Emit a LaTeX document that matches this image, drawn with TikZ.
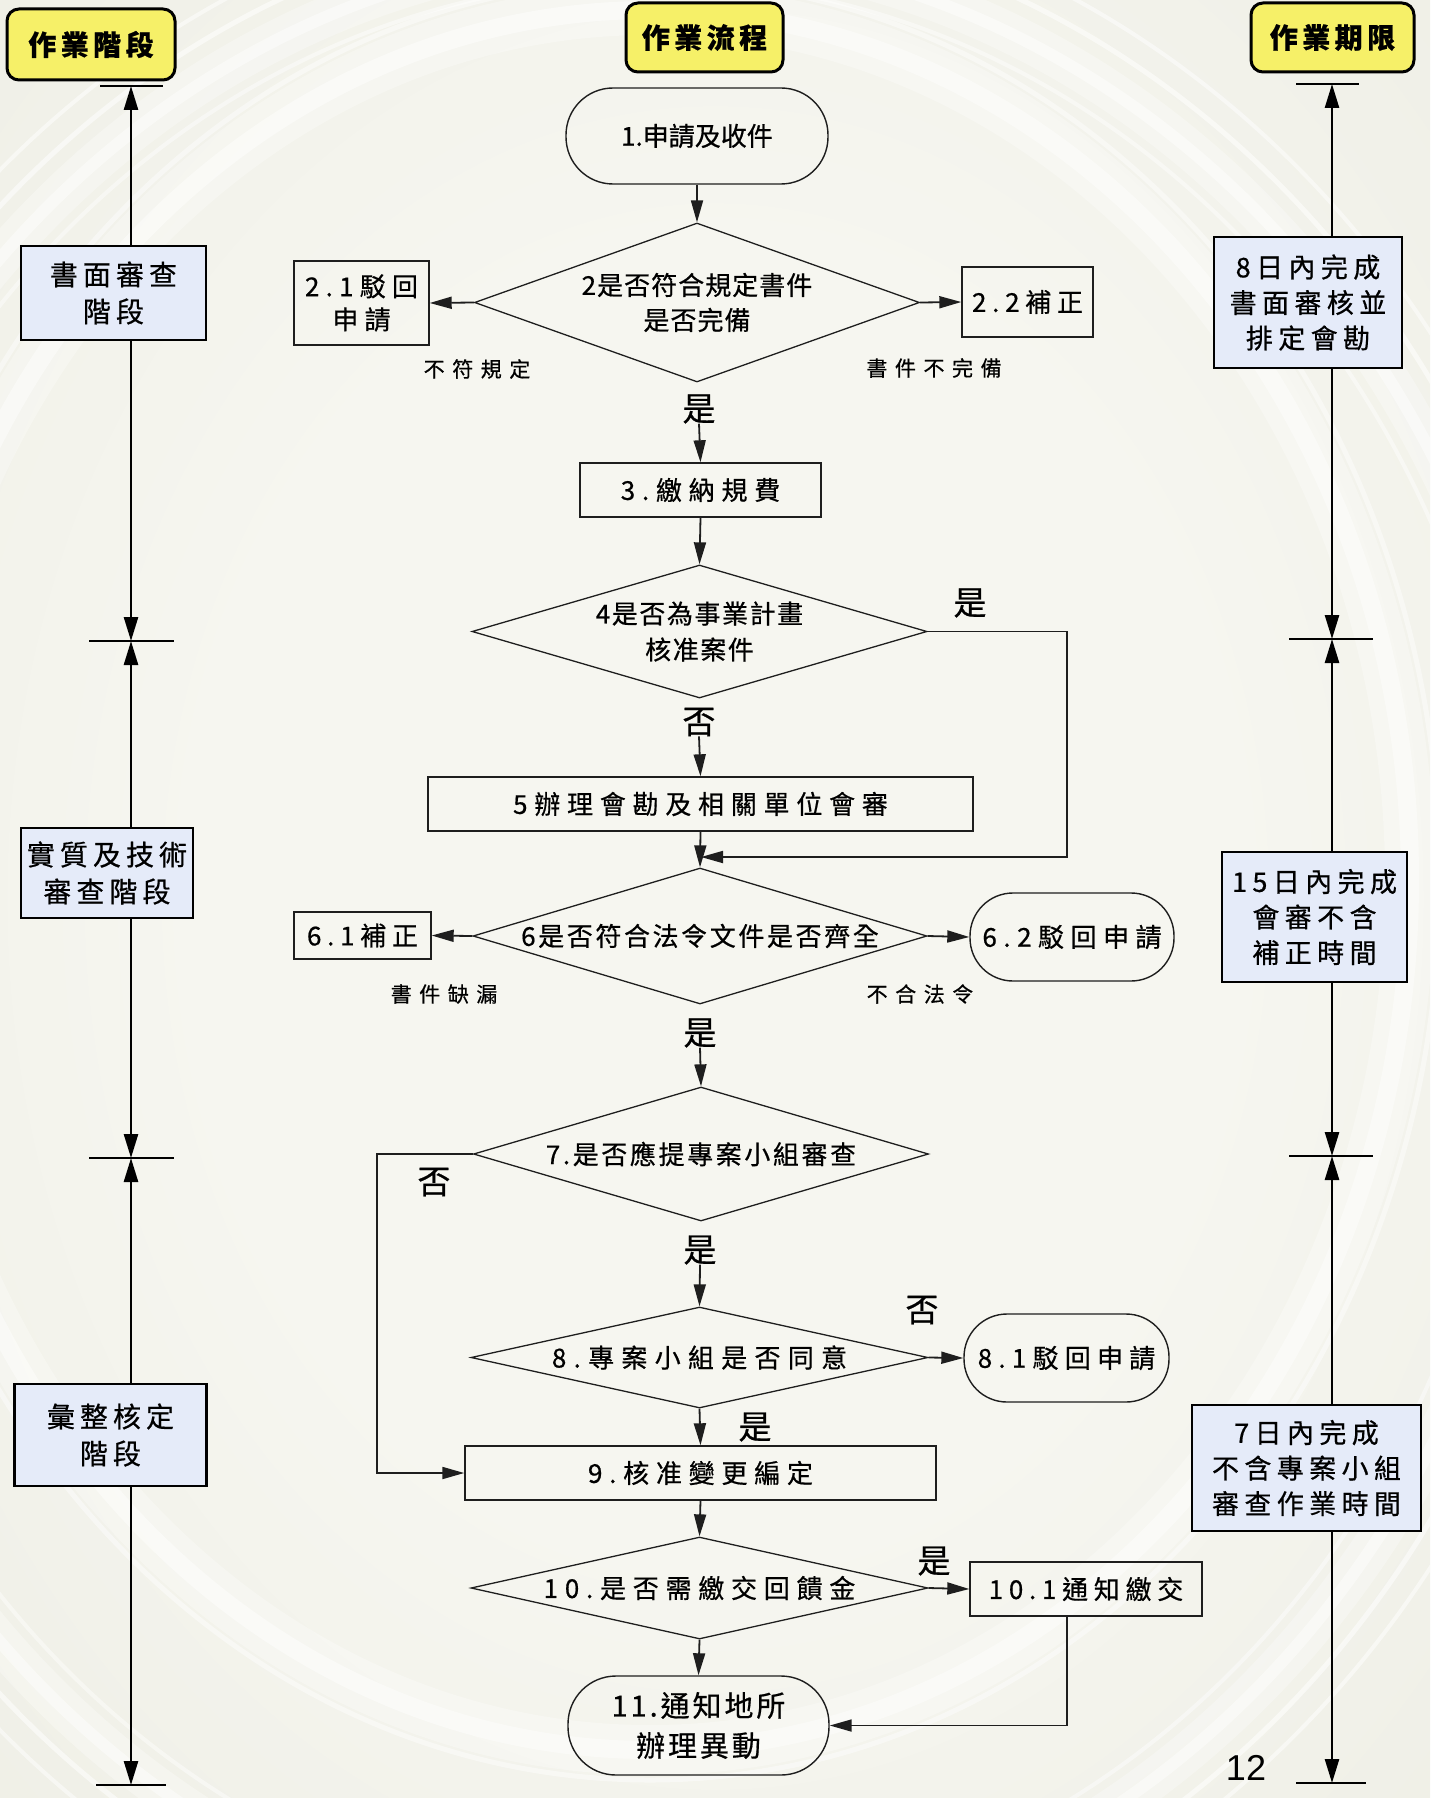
\documentclass[tikz,border=0pt]{standalone}
\usepackage{fontspec}
\setmainfont{Noto Sans CJK TC}[FakeBold=0.6]
\newfontfamily\numfont{Liberation Sans}
\usetikzlibrary{arrows.meta,shapes.geometric}

\definecolor{hdrfill}{RGB}{246,240,104}
\definecolor{phasefill}{RGB}{229,235,249}
\definecolor{bgin}{RGB}{246,246,240}
\definecolor{bgmid}{RGB}{236,236,226}
\definecolor{bgout}{RGB}{222,223,208}
\definecolor{ink}{RGB}{30,30,30}

\newcommand{\setfs}[2]{\fontsize{#1pt}{#2pt}\selectfont}

\pgfdeclareradialshading{bgglow}{\pgfpoint{0bp}{0bp}}{color(0bp)=(bgin); color(18bp)=(bgin); color(45bp)=(bgmid); color(71bp)=(bgout)}

\tikzset{
  fnt/.style n args={3}{font={\setfs{#1}{#2}\addfontfeatures{LetterSpace=#3}}},
  hdr/.style={draw=black, line width=3pt, fill=hdrfill, rounded corners=12pt,
    inner sep=0pt, font={\setfs{28}{32}\bfseries\addfontfeatures{LetterSpace=16}}},
  phase/.style={draw=black, line width=2.5pt, fill=phasefill, inner sep=0pt, align=center,
    font={\setfs{28}{37}\addfontfeatures{LetterSpace=18}}},
  limit/.style={draw=black, line width=2.5pt, fill=phasefill, inner sep=0pt, align=center,
    font={\setfs{27}{35.5}\addfontfeatures{LetterSpace=20}}},
  proc/.style={draw=ink, line width=1.4pt, inner sep=0pt, align=center},
  term/.style={proc},
  dia/.style={diamond, draw=ink, line width=1.3pt, inner sep=0pt},
  dtext/.style={inner sep=0pt, align=center},
  lbl/.style={inner sep=0pt, font={\setfs{21}{24}\addfontfeatures{LetterSpace=36}}},
  yn/.style={inner sep=0pt, font=\setfs{33}{33}},
  flow/.style={draw=ink, line width=1.8pt, -{Triangle[length=22pt,width=12pt]}},
  tl/.style={draw=black, line width=2.6pt, -{Triangle[length=24pt,width=14pt]}},
  bar/.style={draw=black, line width=2pt}
}

\begin{document}
\begin{tikzpicture}[x=1pt,y=-1pt]
\useasboundingbox (0,0) rectangle (1430,1798);

% background glow and sweeping rings
\shade[shading=bgglow] (0,0) rectangle (1430,1798);
\begin{scope}
  \clip (0,0) rectangle (1430,1798);
  \foreach \rx/\ry/\w/\o in {900/1000/40/0.3, 900/1000/12/0.45, 935/1035/5/0.55,
                             960/1060/4/0.5, 870/970/4/0.45}
    \draw[white, line width=\w pt, opacity=\o] (650,950) ellipse [x radius=\rx, y radius=\ry];
  \foreach \rx/\ry/\w/\o in {760/870/50/0.28, 760/870/18/0.45, 790/900/5/0.45}
    \draw[white, line width=\w pt, opacity=\o] (650,880) ellipse [x radius=\rx, y radius=\ry];
\end{scope}

% column headers
\node[hdr, minimum width=168pt, minimum height=71pt] (hstage) at (91,44.5) {作業階段};
\node[hdr, minimum width=157pt, minimum height=69pt] (hflow) at (704.5,37.5) {作業流程};
\node[hdr, minimum width=163pt, minimum height=69pt] (hlimit) at (1332.5,37.5) {作業期限};

% ---------- stage timeline (left) ----------
\coordinate (lb0) at (131,86);
\coordinate (lb1) at (131,641);
\coordinate (lb2) at (131,1158);
\coordinate (lb3) at (131,1785);
\node[phase, minimum width=185pt, minimum height=94pt] (p1) at (113.5,293) {書面審查\\階段};
\node[phase, minimum width=172pt, minimum height=90pt] (p2) at (107,873) {實質及技術\\審查階段};
\node[phase, minimum width=192pt, minimum height=102pt] (p3) at (110.5,1435) {彙整核定\\階段};
\draw[tl] (lb0 |- p1.north) -- (lb0);
\draw[tl] (lb1 |- p1.south) -- (lb1);
\draw[tl] (lb1 |- p2.north) -- (lb1);
\draw[tl] (lb2 |- p2.south) -- (lb2);
\draw[tl] (lb2 |- p3.north) -- (lb2);
\draw[tl] (lb3 |- p3.south) -- (lb3);
\draw[bar] ([xshift=-31pt]lb0) -- ([xshift=32pt]lb0);
\draw[bar] ([xshift=-42pt]lb1) -- ([xshift=43pt]lb1);
\draw[bar] ([xshift=-42pt]lb2) -- ([xshift=43pt]lb2);
\draw[bar] ([xshift=-35pt]lb3) -- ([xshift=35pt]lb3);

% ---------- deadline timeline (right) ----------
\coordinate (rb0) at (1332,84);
\coordinate (rb1) at (1332,639);
\coordinate (rb2) at (1332,1156);
\coordinate (rb3) at (1332,1783);
\node[limit, minimum width=188pt, minimum height=131pt] (q1) at (1308,302.5) {8日內完成\\書面審核並\\排定會勘};
\node[limit, minimum width=185pt, minimum height=130pt] (q2) at (1314.5,917) {15日內完成\\會審不含\\補正時間};
\node[limit, minimum width=229pt, minimum height=126pt] (q3) at (1306.5,1468) {7日內完成\\不含專案小組\\審查作業時間};
\draw[tl] (rb0 |- q1.north) -- (rb0);
\draw[tl] (rb1 |- q1.south) -- (rb1);
\draw[tl] (rb1 |- q2.north) -- (rb1);
\draw[tl] (rb2 |- q2.south) -- (rb2);
\draw[tl] (rb2 |- q3.north) -- (rb2);
\draw[tl] (rb3 |- q3.south) -- (rb3);
\draw[bar] ([xshift=-36pt]rb0) -- ([xshift=27pt]rb0);
\draw[bar] ([xshift=-43pt]rb1) -- ([xshift=41pt]rb1);
\draw[bar] ([xshift=-43pt]rb2) -- ([xshift=41pt]rb2);
\draw[bar] ([xshift=-36pt]rb3) -- ([xshift=34pt]rb3);

% ---------- process flow ----------
\node[term, rounded corners=47pt, minimum width=262pt, minimum height=96pt, fnt={26}{30}{0}] (s1) at (697,136) {1.申請及收件};

\node[dia, minimum width=445pt, minimum height=159pt] (d2) at (697,302.5) {};
\node[dtext, fnt={26}{35}{4}] (d2t) at (d2) {2是否符合規定書件\\是否完備};
\node[proc, minimum width=135pt, minimum height=84pt, fnt={26}{33}{24}] (b21) at (361.5,303) {2.1駁回\\申請};
\node[proc, minimum width=131pt, minimum height=70pt, fnt={26}{30}{22}] (b22) at (1027.5,302) {2.2補正};
\node[lbl] (n21) at (477,369) {不符規定};
\node[lbl] (n22) at (934,368) {書件不完備};
\node[yn] (y2) at (699,409) {是};

\node[proc, minimum width=241pt, minimum height=54pt, fnt={26}{30}{26}] (b3) at (700.5,490) {3.繳納規費};

\node[dia, minimum width=455pt, minimum height=133pt] (d4) at (699.5,631.5) {};
\node[dtext, fnt={26}{36}{6}] (d4t) at (d4) {4是否為事業計畫\\核准案件};
\node[yn] (y4) at (970,603) {是};
\node[yn] (n4) at (699,722) {否};

\node[proc, minimum width=545pt, minimum height=54pt, fnt={26}{30}{26}] (b5) at (700.5,804) {5辦理會勘及相關單位會審};

\node[dia, minimum width=454pt, minimum height=136pt] (d6) at (700,936) {};
\node[dtext, fnt={26}{30}{10}] (d6t) at (d6) {6是否符合法令文件是否齊全};
\node[proc, minimum width=137pt, minimum height=47pt, fnt={26}{30}{22}] (b61) at (362.5,935.5) {6.1補正};
\node[term, rounded corners=43pt, minimum width=204pt, minimum height=88pt, fnt={26}{30}{25}] (t62) at (1072,937) {6.2駁回申請};
\node[lbl] (n61) at (444,994) {書件缺漏};
\node[lbl] (n62) at (920,994) {不合法令};
\node[yn] (y6) at (700,1033) {是};

\node[dia, minimum width=455pt, minimum height=134pt] (d7) at (701,1154) {};
\node[dtext, fnt={26}{30}{10}] (d7t) at (d7) {7.是否應提專案小組審查};
\node[yn] (n7) at (434,1182) {否};
\node[yn] (y7) at (700,1250) {是};

\node[dia, minimum width=457pt, minimum height=101pt] (d8) at (699.5,1357.5) {};
\node[dtext, fnt={26}{30}{28}] (d8t) at (d8) {8.專案小組是否同意};
\node[yn] (n8) at (922,1310) {否};
\node[term, rounded corners=43pt, minimum width=205pt, minimum height=88pt, fnt={26}{30}{24}] (t81) at (1066.5,1358) {8.1駁回申請};
\node[yn] (y8) at (755,1427) {是};

\node[proc, minimum width=471pt, minimum height=54pt, fnt={26}{30}{26}] (b9) at (700.5,1473) {9.核准變更編定};

\node[dia, minimum width=457pt, minimum height=102pt] (d10) at (699.5,1588) {};
\node[dtext, fnt={26}{30}{26}] (d10t) at (d10) {10.是否需繳交回饋金};
\node[yn] (y10) at (934,1561) {是};
\node[proc, minimum width=232pt, minimum height=54pt, fnt={26}{30}{22}] (b101) at (1086,1589) {10.1通知繳交};

\node[term, rounded corners=48pt, minimum width=261pt, minimum height=99pt, fnt={29}{40}{10}] (t11) at (698.5,1725.5) {11.通知地所\\辦理異動};

% turning points of the side routes
\coordinate (k4) at (1067,857);
\coordinate (j5) at (701,857);
\coordinate (k7) at (377,1473);
\coordinate (k10) at (1067,1725.5);

% connectors
\draw[flow] (s1.south) -- (d2.north);
\draw[flow] (d2.west) -- (b21.east);
\draw[flow] (d2.east) -- (b22.west);
\draw[flow] (y2.south) -- (b3.north);
\draw[flow] (b3.south) -- (d4.north);
\draw[flow] (n4.south) -- (b5.north);
\draw[flow] (d4.east) -| (k4) -- (j5);
\draw[flow] (b5.south) -- (d6.north);
\draw[flow] (d6.west) -- (b61.east);
\draw[flow] (d6.east) -- (t62.west);
\draw[flow] (y6.south) -- (d7.north);
\draw[flow] (d7.west) -| (k7) -- (b9.west);
\draw[flow] (y7.south) -- (d8.north);
\draw[flow] (d8.east) -- (t81.west);
\draw[flow] (d8.south) -- (b9.north);
\draw[flow] (b9.south) -- (d10.north);
\draw[flow] (d10.east) -- (b101.west);
\draw[flow] (d10.south) -- (t11.north);
\draw[flow] (k10 |- b101.south) -- (k10) -- (t11.east);

% page number
\node[inner sep=0pt, font={\numfont\fontsize{36pt}{36pt}\selectfont}] (pgno) at (1246,1768) {12};
\end{tikzpicture}
\end{document}
